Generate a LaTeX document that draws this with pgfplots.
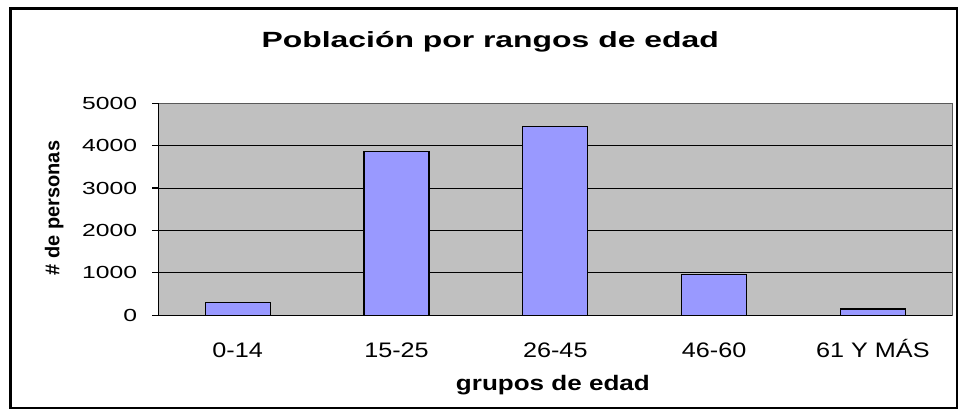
\documentclass[border=0pt]{standalone}
\usepackage{fontspec}
\setmainfont{Liberation Sans}
\usepackage{pgfplots}
\pgfplotsset{compat=1.18}
\definecolor{barblue}{HTML}{9999FF}
\definecolor{plotgray}{HTML}{C0C0C0}
\newcommand{\xs}[1]{\scalebox{1.2}[1]{#1}}
\begin{document}
\begin{tikzpicture}
\path[use as bounding box] (0pt,0pt) rectangle (962pt,412pt);
\draw[line width=2.2pt] (10.5pt,4pt) rectangle (957pt,403.5pt);
\begin{axis}[
  at={(158.3pt,96.7pt)}, anchor=south west,
  scale only axis, width=794pt, height=212pt,
  xmin=-0.5, xmax=4.5, ymin=0, ymax=5000,
  axis background/.style={fill=plotgray, draw=gray!70!black, line width=1pt},
  axis x line*=bottom, axis y line*=left,
  axis line style={black, line width=1.3pt},
  xtick={0,1,2,3,4},
  xticklabels={\xs{0-14},\xs{15-25},\xs{26-45},\xs{46-60},\xs{61 Y MÁS}},
  major x tick style={draw=none},
  extra x ticks={-0.5,0.5,1.5,2.5,3.5,4.5},
  extra x tick labels={},
  extra x tick style={major tick length=6pt, tick align=outside, tick style={black, line width=1.2pt}, grid=none},
  ytick={0,1000,...,5000},
  /pgf/number format/assume math mode=true,
  /pgf/number format/1000 sep={},
  yticklabel={\scalebox{1.41}[1]{\pgfmathprintnumber{\tick}}},
  y tick label style={font=\fontsize{17.5}{20}\selectfont, anchor=east, inner sep=0pt, xshift=-15pt},
  x tick label style={font=\fontsize{21}{24}\selectfont, anchor=base, inner sep=0pt, yshift=-36pt},
  major tick length=6pt, tick align=outside,
  tick style={black, line width=1.2pt},
  extra y ticks={1000,2000,3000,4000},
  extra y tick labels={},
  extra y tick style={ymajorgrids=true, major tick length=0pt},
  grid style={black, line width=1pt},
  title={\scalebox{1.45}[1]{Población por rangos de edad}},
  title style={font=\fontsize{22}{26}\selectfont\bfseries, at={(axis description cs:0.418,1)}, anchor=center, yshift=56pt},
  xlabel={\scalebox{1.24}[1]{grupos de edad}},
  xlabel style={font=\fontsize{21}{24}\selectfont\bfseries, at={(axis description cs:0.497,0)}, anchor=center, yshift=-69.7pt},
  ylabel={\# de personas},
  ylabel style={font=\fontsize{20}{24}\selectfont\bfseries, at={(axis description cs:-0.131,0.506)}, anchor=center},
  clip=false,
]
\addplot[ybar, bar width=65pt, fill=barblue, draw=black, line width=1.3pt] coordinates {
  (0,300) (1,3860) (2,4450) (3,970) (4,150)
};
\end{axis}
\end{tikzpicture}
\end{document}
